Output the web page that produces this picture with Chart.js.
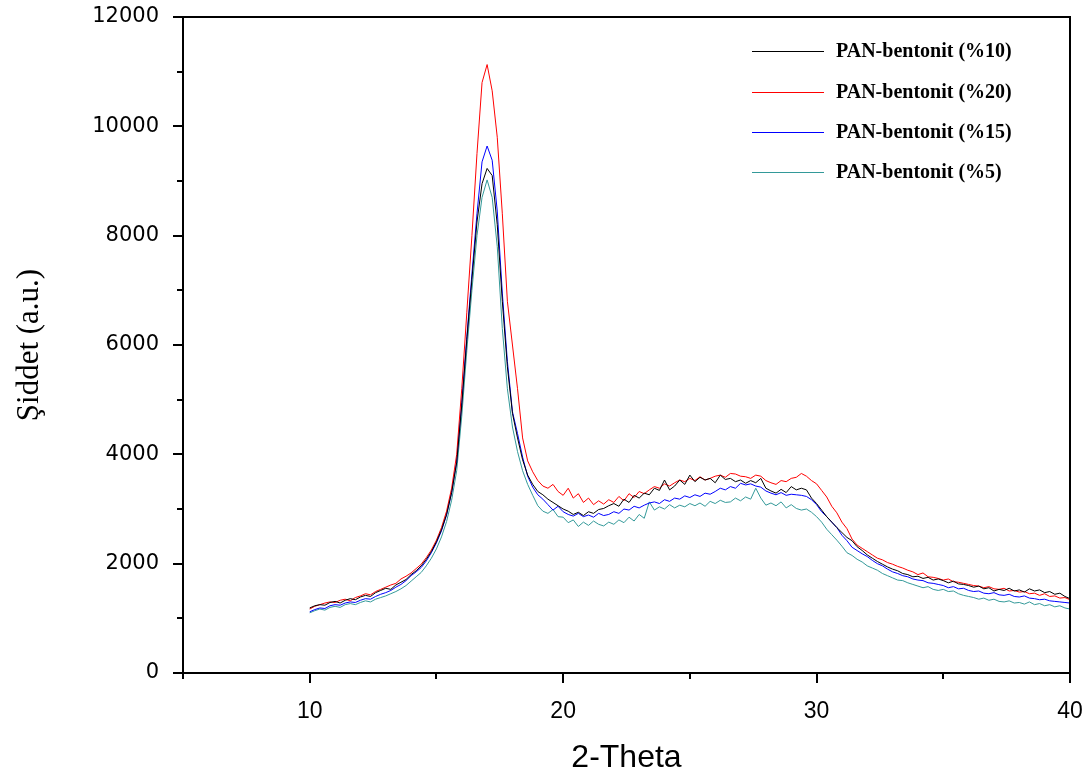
<!DOCTYPE html>
<html>
<head>
<meta charset="utf-8">
<title>PAN-bentonit XRD</title>
<script src="https://cdn.jsdelivr.net/npm/chart.js@4.4.1/dist/chart.umd.min.js"></script>
<style>
  body { margin: 0; background: #fff; }
  #wrap { width: 1092px; height: 780px; }
</style>
</head>
<body>
<div id="wrap"><canvas id="xrd-chart" width="1092" height="780"></canvas></div>
<script>
/* 2-theta sampling (degrees) */
var theta = [
  10.0,10.2,10.4,10.6,10.8,11.0,11.2,11.4,11.6,11.8,
  12.0,12.2,12.4,12.6,12.8,13.0,13.2,13.4,13.6,13.8,
  14.0,14.2,14.4,14.6,14.8,15.0,15.2,15.4,15.6,15.8,
  16.0,16.2,16.4,16.6,16.8,17.0,17.2,17.4,17.6,17.8,
  18.0,18.2,18.4,18.6,18.8,19.0,19.2,19.4,19.6,19.8,
  20.0,20.2,20.4,20.6,20.8,21.0,21.2,21.4,21.6,21.8,
  22.0,22.2,22.4,22.6,22.8,23.0,23.2,23.4,23.6,23.8,
  24.0,24.2,24.4,24.6,24.8,25.0,25.2,25.4,25.6,25.8,
  26.0,26.2,26.4,26.6,26.8,27.0,27.2,27.4,27.6,27.8,
  28.0,28.2,28.4,28.6,28.8,29.0,29.2,29.4,29.6,29.8,
  30.0,30.2,30.4,30.6,30.8,31.0,31.2,31.4,31.6,31.8,
  32.0,32.2,32.4,32.6,32.8,33.0,33.2,33.4,33.6,33.8,
  34.0,34.2,34.4,34.6,34.8,35.0,35.2,35.4,35.6,35.8,
  36.0,36.2,36.4,36.6,36.8,37.0,37.2,37.4,37.6,37.8,
  38.0,38.2,38.4,38.6,38.8,39.0,39.2,39.4,39.6,39.8,
  40.0
];

/* intensities (a.u.) */
var pan10 = [
  1190,1230,1250,1240,1290,1310,1280,1330,1360,1340,
  1390,1420,1400,1470,1510,1550,1530,1610,1660,1710,
  1800,1870,1960,2080,2220,2400,2620,2900,3300,3850,
  4900,6100,7200,8250,8950,9230,9100,8200,6800,5600,
  4750,4300,3900,3620,3450,3320,3260,3180,3120,3060,
  3000,2960,2900,2940,2880,2950,2920,2990,3010,3060,
  3100,3050,3180,3120,3250,3200,3290,3260,3380,3340,
  3530,3350,3420,3530,3450,3620,3500,3580,3530,3560,
  3480,3620,3540,3560,3500,3530,3470,3520,3480,3560,
  3380,3330,3290,3360,3300,3410,3350,3380,3350,3200,
  3100,2980,2860,2760,2660,2570,2480,2420,2310,2240,
  2160,2100,2040,1990,1940,1900,1870,1820,1800,1760,
  1770,1730,1750,1700,1720,1690,1650,1680,1630,1620,
  1600,1570,1590,1540,1560,1500,1530,1510,1550,1500,
  1520,1480,1540,1500,1520,1470,1490,1440,1460,1400,
  1360
];
var pan20 = [
  1170,1220,1250,1280,1300,1290,1330,1350,1320,1380,
  1410,1450,1430,1490,1530,1570,1610,1640,1720,1770,
  1830,1910,1990,2110,2250,2430,2660,2960,3380,4000,
  5200,6600,8000,9500,10800,11130,10650,9800,8400,6800,
  6000,5200,4300,3880,3680,3520,3420,3380,3450,3320,
  3250,3380,3200,3280,3120,3200,3080,3150,3090,3170,
  3120,3230,3150,3280,3210,3320,3280,3350,3410,3380,
  3460,3420,3480,3530,3500,3560,3520,3590,3530,3560,
  3600,3620,3580,3650,3640,3600,3590,3560,3620,3600,
  3520,3480,3450,3520,3500,3560,3580,3650,3600,3520,
  3460,3340,3220,3050,2930,2760,2640,2450,2340,2280,
  2220,2160,2100,2070,2020,1990,1950,1920,1880,1850,
  1800,1830,1760,1750,1730,1700,1720,1670,1660,1640,
  1620,1600,1590,1560,1580,1540,1530,1550,1500,1510,
  1480,1490,1450,1460,1420,1450,1400,1410,1370,1380,
  1340
];
var pan15 = [
  1120,1160,1190,1180,1230,1250,1240,1280,1300,1290,
  1330,1360,1350,1400,1440,1470,1510,1570,1620,1690,
  1780,1850,1930,2050,2200,2380,2600,2890,3300,3870,
  4950,6150,7300,8400,9350,9640,9380,8450,6950,5700,
  4780,4380,3950,3600,3400,3260,3180,3080,2980,3050,
  2950,2900,2870,2920,2860,2890,2850,2920,2880,2900,
  2950,2920,3000,2980,3050,3020,3070,3110,3130,3100,
  3170,3140,3200,3180,3240,3210,3260,3230,3290,3270,
  3320,3380,3350,3410,3380,3470,3440,3460,3420,3400,
  3330,3290,3260,3300,3250,3270,3260,3250,3230,3170,
  3080,2950,2860,2760,2660,2520,2420,2300,2240,2180,
  2130,2060,2000,1960,1900,1850,1820,1780,1760,1720,
  1700,1690,1650,1640,1620,1600,1560,1580,1540,1550,
  1510,1490,1500,1460,1450,1470,1430,1420,1440,1400,
  1390,1410,1370,1360,1340,1350,1320,1310,1300,1290,
  1280
];
var pan5 = [
  1100,1140,1170,1150,1200,1220,1200,1250,1270,1250,
  1290,1320,1300,1350,1380,1410,1450,1490,1540,1600,
  1680,1760,1840,1960,2100,2270,2490,2770,3160,3700,
  4700,5900,7000,8000,8700,9020,8700,7800,6300,5200,
  4500,4050,3700,3450,3250,3060,2960,2920,2990,2860,
  2850,2750,2800,2680,2760,2700,2780,2720,2690,2760,
  2720,2800,2750,2850,2780,2900,2830,3130,2980,3040,
  3000,3080,3020,3070,3040,3100,3060,3110,3050,3140,
  3100,3160,3120,3130,3200,3150,3220,3180,3380,3200,
  3070,3110,3060,3130,3020,3080,3010,2980,3000,2940,
  2860,2760,2630,2530,2430,2320,2200,2150,2080,2030,
  1960,1920,1880,1820,1780,1740,1700,1690,1650,1620,
  1590,1560,1580,1530,1510,1530,1490,1500,1450,1420,
  1400,1380,1350,1370,1330,1350,1310,1300,1320,1280,
  1290,1260,1300,1250,1270,1230,1250,1210,1230,1190,
  1170
];

var seriesLabels = ["PAN-bentonit (%10)", "PAN-bentonit (%20)", "PAN-bentonit (%15)", "PAN-bentonit (%5)"];
var seriesColors = ["#000000", "#ff0000", "#0000ff", "#339999"];

var xMajor = [10, 20, 30, 40];
var xMinor = [5, 15, 25, 35];
var yMajor = [0, 2000, 4000, 6000, 8000, 10000, 12000];
var yMinor = [1000, 3000, 5000, 7000, 9000, 11000];

function toPoints(values) {
  return values.map(function(v, i) { return { x: theta[i], y: v }; });
}

var allSeries = [pan10, pan20, pan15, pan5];
var datasets = allSeries.map(function(vals, i) {
  return {
    label: seriesLabels[i],
    data: toPoints(vals),
    borderColor: seriesColors[i],
    borderWidth: 1,
    pointRadius: 0,
    tension: 0,
    fill: false
  };
});

// frame on top/right, short minor ticks, legend drawn inside plot
var framePlugin = {
  id: 'framePlugin',
  afterDraw: function(chart) {
    var ctx = chart.ctx;
    var area = chart.chartArea;
    var xs = chart.scales.x;
    var ys = chart.scales.y;
    ctx.save();
    ctx.strokeStyle = '#000';
    ctx.lineWidth = 2;
    ctx.beginPath();
    ctx.moveTo(area.left - 1, area.top);
    ctx.lineTo(area.right, area.top);
    ctx.lineTo(area.right, area.bottom);
    ctx.stroke();

    ctx.beginPath();
    xMinor.forEach(function(v) {
      var px = Math.round(xs.getPixelForValue(v));
      ctx.moveTo(px, area.bottom);
      ctx.lineTo(px, area.bottom + 6);
    });
    yMinor.forEach(function(v) {
      var py = Math.round(ys.getPixelForValue(v));
      ctx.moveTo(area.left, py);
      ctx.lineTo(area.left - 6, py);
    });
    ctx.stroke();

    // legend
    var rowY = [51, 92, 132, 172];
    ctx.font = 'bold 20px "Liberation Serif", "Times New Roman", serif';
    ctx.textBaseline = 'middle';
    ctx.textAlign = 'left';
    chart.data.datasets.forEach(function(ds, i) {
      ctx.strokeStyle = ds.borderColor;
      ctx.lineWidth = 1;
      ctx.beginPath();
      ctx.moveTo(752, rowY[i] + 0.5);
      ctx.lineTo(824, rowY[i] + 0.5);
      ctx.stroke();
      ctx.fillStyle = '#000';
      ctx.fillText(ds.label, 836, rowY[i] + 1);
    });
    ctx.restore();
  }
};

new Chart(document.getElementById("xrd-chart"), {
  type: 'line',
  data: { datasets: datasets },
  plugins: [framePlugin],
  options: {
    responsive: false,
    animation: false,
    layout: { padding: { top: 17, right: 22, left: 0, bottom: 0 } },
    plugins: {
      legend: { display: false },
      tooltip: { enabled: false }
    },
    scales: {
      x: {
        type: 'linear',
        min: 5,
        max: 40,
        afterBuildTicks: function(scale) {
          scale.ticks = xMajor.map(function(v) { return { value: v }; });
        },
        afterFit: function(scale) {
          scale.height = 107;
          scale.paddingLeft = 0;
          scale.paddingRight = 0;
        },
        grid: { drawOnChartArea: false, drawTicks: true, tickLength: 10, color: '#000', lineWidth: 2 },
        border: { display: true, color: '#000', width: 2 },
        ticks: {
          color: '#000',
          padding: 15,
          maxRotation: 0,
          font: { family: '"Liberation Sans", Arial, sans-serif', size: 23 }
        },
        title: {
          display: true,
          text: '2-Theta',
          color: '#000',
          padding: { top: 0, bottom: 3 },
          font: { family: '"Liberation Sans", Arial, sans-serif', size: 32 }
        }
      },
      y: {
        min: 0,
        max: 12000,
        afterBuildTicks: function(scale) {
          scale.ticks = yMajor.map(function(v) { return { value: v }; });
        },
        afterFit: function(scale) {
          scale.width = 183;
          scale.paddingTop = 0;
          scale.paddingBottom = 0;
        },
        grid: { drawOnChartArea: false, drawTicks: true, tickLength: 10, color: '#000', lineWidth: 2 },
        border: { display: true, color: '#000', width: 2 },
        ticks: {
          color: '#000',
          padding: 14,
          font: { family: '"DejaVu Sans", sans-serif', size: 21 },
          callback: function(v) { return String(v); }
        },
        title: {
          display: true,
          text: 'Şiddet (a.u.)',
          color: '#000',
          padding: { top: 11, bottom: 0 },
          font: { family: '"Liberation Serif", "Times New Roman", serif', size: 31 }
        }
      }
    }
  }
});
</script>
</body>
</html>
